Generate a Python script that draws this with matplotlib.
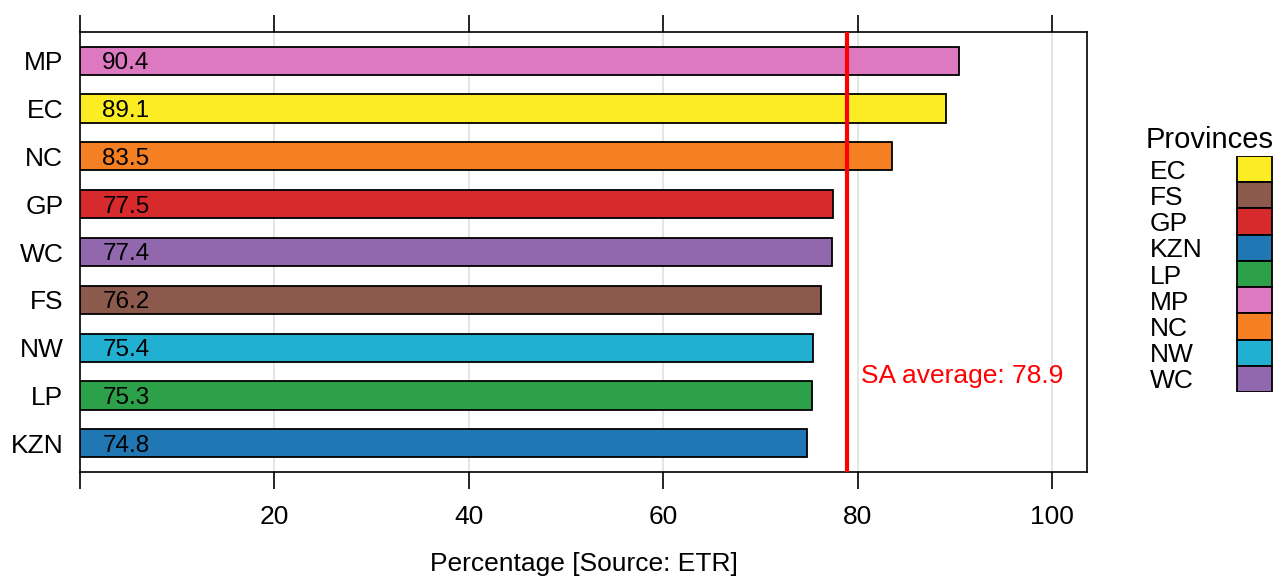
import matplotlib
matplotlib.use("Agg")
import matplotlib.pyplot as plt

plt.rcParams["font.family"] = ["Liberation Sans", "DejaVu Sans"]

# data, bottom to top as drawn
provinces = ["KZN", "LP", "NW", "FS", "WC", "GP", "NC", "EC", "MP"]
values = [74.8, 75.3, 75.4, 76.2, 77.4, 77.5, 83.5, 89.1, 90.4]
sa_average = 78.9

colors = {
    "EC": "#FBEC24",
    "FS": "#8C5A4C",
    "GP": "#D62A2D",
    "KZN": "#2077B4",
    "LP": "#2CA14A",
    "MP": "#DD79C0",
    "NC": "#F58023",
    "NW": "#22B0D2",
    "WC": "#9168AD",
}
legend_order = sorted(colors)

xticks = [0, 20, 40, 60, 80, 100]
xticklabels = ["", "20", "40", "60", "80", "100"]

fig = plt.figure(figsize=(12.76, 5.76), dpi=100)
ax = fig.add_axes([80 / 1276, 1 - 472 / 576, 1007 / 1276, 440 / 576])

y = range(len(provinces))
ax.barh(y, values, height=0.59, color=[colors[p] for p in provinces],
        edgecolor="black", linewidth=1.3, zorder=3)
for i, v in enumerate(values):
    ax.text(2.3, i, f"{v:.1f}", va="center_baseline", ha="left",
            fontsize=17.5, zorder=4)

for t in xticks[1:]:
    ax.axvline(t, color="#E3E3E3", linewidth=1.3, zorder=1)
ax.axvline(sa_average, color="red", linewidth=3, zorder=5)
ax.text(80.4, 1.45, f"SA average: {sa_average}", color="red", fontsize=19,
        va="center_baseline", ha="left")

ax.set_xlim(0, 103.6)
ax.set_ylim(-0.6, len(provinces) - 0.4)
ax.set_yticks(list(y))
ax.set_yticklabels(provinces, fontsize=19)
ax.tick_params(axis="y", length=0, pad=12)
ax.set_xticks(xticks)
ax.set_xticklabels(xticklabels, fontsize=19)
ax.tick_params(axis="x", direction="out", length=12, width=1.2, top=True,
               pad=12)
for s in ax.spines.values():
    s.set_linewidth(1.2)
ax.set_xlabel("Percentage [Source: ETR]", fontsize=19, labelpad=16)

# legend panel
lax = fig.add_axes([1145 / 1276, 1 - 392 / 576, 128 / 1276, 236 / 576])
n = len(legend_order)
ly = [n - 1 - k for k in range(n)]
lax.barh(ly, [0.281] * n, left=0.719, height=1.0,
         color=[colors[p] for p in legend_order], edgecolor="black",
         linewidth=1.3)
for k, p in zip(ly, legend_order):
    lax.text(0.04, k, p, va="center_baseline", ha="left", fontsize=19)
lax.text(0.51, n - 0.5 + 0.72, "Provinces", va="center_baseline",
         ha="center", fontsize=21)
lax.set_xlim(0, 1.005)
lax.set_ylim(-0.5, n - 0.5)
lax.axis("off")

fig.savefig("out.png", dpi=100)
